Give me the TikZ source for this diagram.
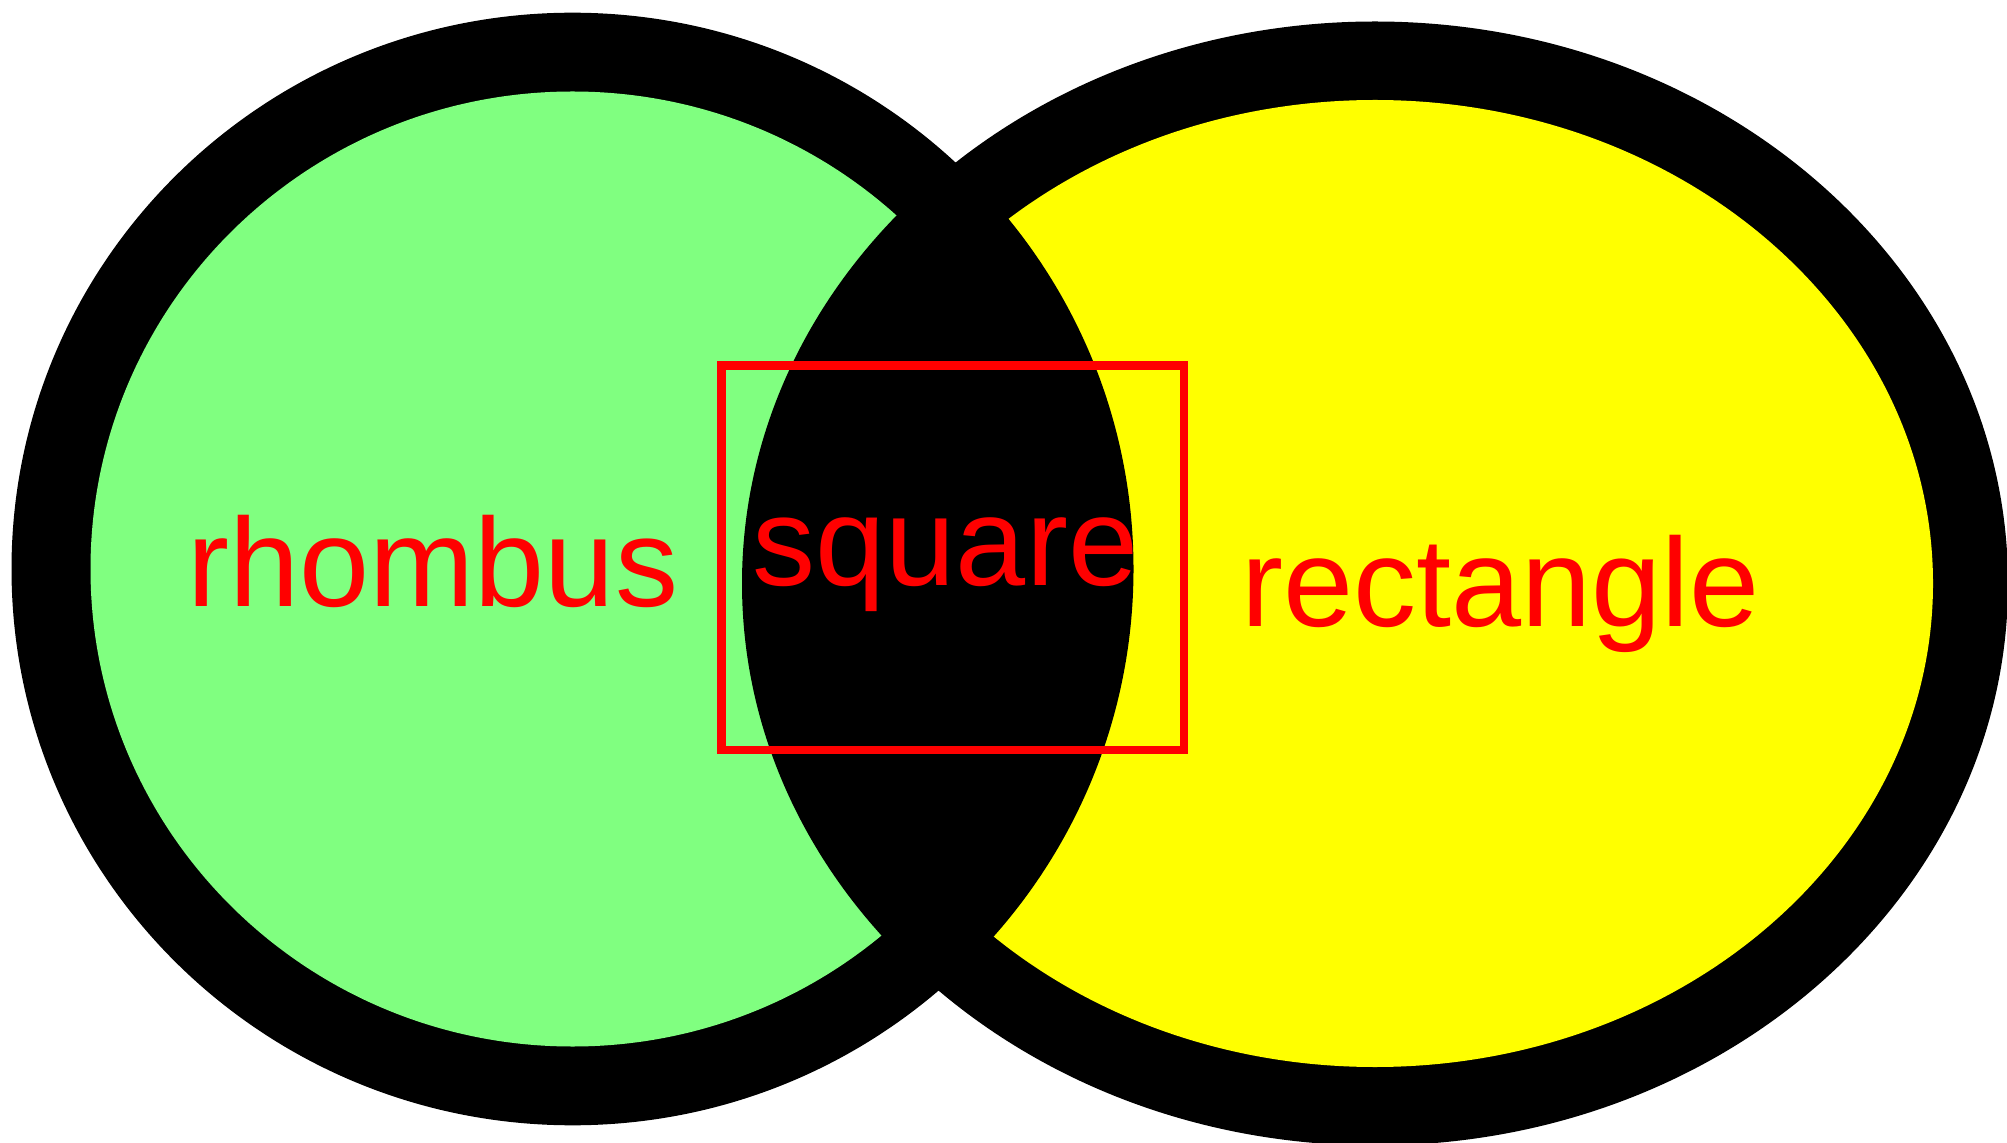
\documentclass[tikz,border=0pt]{standalone}
\usepackage{fontspec}
\setmainfont{Liberation Sans}
\definecolor{lgreen}{RGB}{128,255,128}
\definecolor{vyellow}{RGB}{255,255,0}
\definecolor{vred}{RGB}{255,0,0}
\begin{document}
\begin{tikzpicture}[x=0.5pt,y=0.5pt,
  label/.style={text=vred,font=\fontsize{63pt}{75pt}\selectfont,inner sep=0pt,anchor=base},
  redbox/.style={draw=vred,line width=4.25pt,inner sep=0pt,minimum width=231.25pt,minimum height=192.25pt}]
\useasboundingbox (0,0) rectangle (2007,1142);
\clip (0,0) rectangle (2007,1142);
% outer black ellipses
\fill[black] (572.5,573) ellipse [x radius=561, y radius=556.3];
\fill[black] (1375,558.5) ellipse [x radius=633, y radius=562];
% inner coloured ellipses
\fill[lgreen] (572.5,573) ellipse [x radius=482, y radius=477.5];
\fill[vyellow] (1375,558.5) ellipse [x radius=558, y radius=483.5];
% black intersection
\begin{scope}
  \clip (572.5,573) ellipse [x radius=561, y radius=556.3];
  \fill[black] (1375,558.5) ellipse [x radius=633, y radius=562];
\end{scope}
% red square frame
\node[redbox] (sqbox) at (952.75,584.25) {};
% labels
\node[label] (rhombus) at (433,536) {rhombus};
\node[label] (square) at (945.5,556) {square};
\node[label] (rectangle) at (1500.5,516) {rectangle};
\end{tikzpicture}
\end{document}
